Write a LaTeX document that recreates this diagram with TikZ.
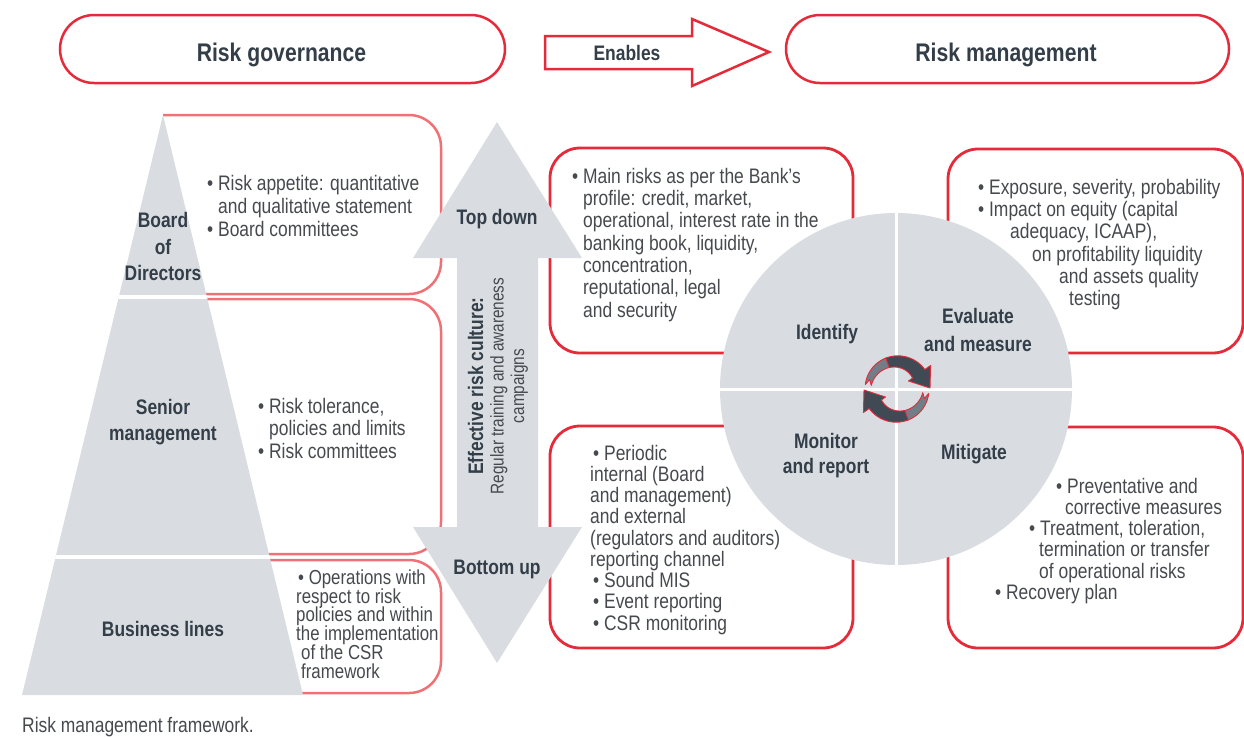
\documentclass[tikz,border=0pt]{standalone}
\usepackage{fontspec}
\setmainfont{Liberation Sans}[FakeStretch=0.83]
\definecolor{rred}{HTML}{E52B3A}
\definecolor{lpink}{HTML}{EF7175}
\definecolor{pgrey}{HTML}{D9DDE1}
\definecolor{darktxt}{HTML}{333E48}
\definecolor{bodytxt}{HTML}{46494E}
\definecolor{arrdark}{HTML}{3F4A54}
\definecolor{arrgrey}{HTML}{717D87}
\newcommand\mystrut{\rule{0pt}{17pt}}
\newcommand\bul{\textbullet\ }
\newcommand\bulsp{\phantom{\textbullet\ }}
\begin{document}
\lineskiplimit=-50pt
\begin{tikzpicture}[x=1pt,y=-1pt,
  pill/.style={draw=rred,line width=2.5pt,rounded corners=34pt,fill=white,minimum height=68pt,inner sep=0pt},
  toplbl/.style={font=\bfseries\fontsize{25.5}{28}\selectfont,text=darktxt,inner sep=0pt,anchor=base},
  rbox/.style={draw=rred,line width=2.8pt,rounded corners=30pt},
  lbox/.style={draw=lpink,line width=2.5pt,rounded corners=32pt},
  lbl/.style={font=\bfseries\fontsize{21}{26.5}\selectfont,text=darktxt,align=center,inner sep=0pt},
  body/.style={font=\fontsize{21}{22.3}\selectfont,text=bodytxt,align=left,inner sep=0pt,anchor=north west},
  cyc/.style={draw=rred,line width=0.9pt,line join=round}
]
\useasboundingbox (0,0) rectangle (1244,737);
% left boxes
\draw[lbox] (163,294) -- (441,294) -- (441,115) -- (163,115);
\draw[lbox] (163,554) -- (441,554) -- (441,299) -- (163,299);
\draw[lbox] (163,693) -- (441,693) -- (441,560) -- (163,560);
% pyramid
\fill[pgrey] (163,115) -- (303,695) -- (22,695) -- cycle;
\begin{scope}
  \clip (163,115) -- (303,695) -- (22,695) -- cycle;
  \draw[white,line width=3.5pt] (0,297) -- (330,297) (0,557) -- (330,557);
\end{scope}
% right boxes
\draw[rbox] (550,148) rectangle (853,353);
\draw[rbox] (550,426) rectangle (853,648);
\draw[rbox] (948,149) rectangle (1243,353);
\draw[rbox] (948,427) rectangle (1243,648);
% double arrow
\fill[pgrey] (497,122) -- (582,258) -- (538,258) -- (538,527) -- (582,527) -- (497,663) -- (413,527) -- (457,527) -- (457,258) -- (413,258) -- cycle;
% wheel
\node[circle,fill=pgrey,minimum size=352pt,inner sep=0pt] (wheel) at (896,389) {};
\draw[white,line width=3pt] (wheel.north) -- (wheel.south) (wheel.west) -- (wheel.east);
% cycle arrows
\foreach \ang in {0,180}{
\begin{scope}[shift={(897,389)},rotate=\ang]
  \filldraw[cyc,fill=arrgrey] plot[domain=188:252,samples=16] ({(32+(\x-188)/137*2)*cos(\x)},{(32+(\x-188)/137*2)*sin(\x)}) -- plot[domain=252:188,samples=16] ({(26-(\x-188)/137*7)*cos(\x)},{(26-(\x-188)/137*7)*sin(\x)}) -- ({29*cos(199)},{29*sin(199)}) -- cycle;
  \filldraw[cyc,fill=arrdark] plot[domain=250:325,samples=20] ({(32+(\x-188)/137*2)*cos(\x)},{(32+(\x-188)/137*2)*sin(\x)}) -- ({41*cos(325)},{41*sin(325)}) -- (33,-1) -- ({14*cos(325)},{14*sin(325)}) -- plot[domain=325:250,samples=20] ({(26-(\x-188)/137*7)*cos(\x)},{(26-(\x-188)/137*7)*sin(\x)}) -- cycle;
\end{scope}}
% top pills
\node[pill,minimum width=445pt] (gov) at (282.5,49) {};
\node[toplbl] (govt) at (281.5,61) {Risk governance};
\node[pill,minimum width=443pt] (mgmt) at (1007.5,49) {};
\node[toplbl] (mgmtt) at (1006,61) {Risk management};
\draw[draw=rred,line width=2.5pt,fill=white,line join=miter] (545,36) -- (692,36) -- (692,19) -- (769,52) -- (692,86) -- (692,69) -- (545,69) -- cycle;
\node[font=\bfseries\fontsize{21}{24}\selectfont,text=darktxt,inner sep=0pt,anchor=base] (enab) at (627,60) {Enables};
% left texts
\node[body,font=\fontsize{21}{23}\selectfont] (t1) at (207,173) {\mystrut\bul Risk appetite: quantitative\\\bulsp and qualitative statement\\\bul Board committees};
\node[body,font=\fontsize{21}{22.5}\selectfont] (t2) at (258,396) {\mystrut\bul Risk tolerance,\\\bulsp policies and limits\\\bul Risk committees};
\node[body,font=\fontsize{20.3}{18.8}\selectfont] (t3) at (296,567) {\mystrut\hspace{2pt}\bul Operations with\\respect to risk\\policies and within\\the implementation\\\hspace{5pt}of the CSR\\\hspace{5pt}framework};
% right texts
\node[body] (t4) at (572,166) {\mystrut\bul Main risks as per the Bank's\\\bulsp profile: credit, market,\\\bulsp operational, interest rate in the\\\bulsp banking book, liquidity,\\\bulsp concentration,\\\bulsp reputational, legal\\\bulsp and security};
\node[body,font=\fontsize{21}{21.25}\selectfont] (t5) at (590,443) {\mystrut\hspace{3pt}\bul Periodic\\internal (Board\\and management)\\and external\\(regulators and auditors)\\reporting channel\\\hspace{3pt}\bul Sound MIS\\\hspace{3pt}\bul Event reporting\\\hspace{3pt}\bul CSR monitoring};
\node[body] (t6) at (978,177) {\mystrut\bul Exposure, severity, probability\\\bul Impact on equity (capital\\\hspace{32pt}adequacy, ICAAP),\\\hspace{54pt}on profitability liquidity\\\hspace{81pt}and assets quality\\\hspace{91pt}testing};
\node[body,font=\fontsize{21}{21.2}\selectfont] (t7) at (995,476) {\mystrut\hspace{61pt}\bul Preventative and\\\hspace{70pt}corrective measures\\\hspace{34pt}\bul Treatment, toleration,\\\hspace{44pt}termination or transfer\\\hspace{44pt}of operational risks\\\bul Recovery plan};
% labels
\node[lbl] (bod) at (163,246.5) {Board\\of\\Directors};
\node[lbl,font=\bfseries\fontsize{21}{26}\selectfont] (sen) at (163,422) {Senior\\management};
\node[lbl] (bus) at (163,629) {Business lines};
\node[lbl] (topd) at (497,219) {Top down};
\node[lbl] (botu) at (497,569) {Bottom up};
\node[lbl] (idf) at (827,334) {Identify};
\node[lbl,font=\bfseries\fontsize{21}{28}\selectfont] (eva) at (978,330) {Evaluate\\and measure};
\node[lbl,font=\bfseries\fontsize{21}{25}\selectfont] (mon) at (826,455.5) {Monitor\\and report};
\node[lbl] (mit) at (974,454) {Mitigate};
\node[rotate=90,align=center,inner sep=0pt,font=\fontsize{18.5}{20.5}\selectfont,text=bodytxt] (culture) at (498,386) {{\bfseries\fontsize{21}{20.5}\selectfont\color{darktxt}Effective risk culture:}\\Regular training and awareness\\campaigns};
% caption
\node[font=\fontsize{21}{24}\selectfont,text=bodytxt,anchor=base west,inner sep=0pt] (cap) at (22,732) {Risk management framework.};
\end{tikzpicture}
\end{document}
